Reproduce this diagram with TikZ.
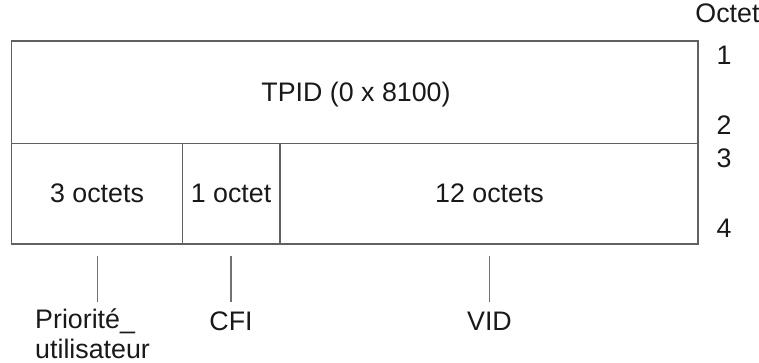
\documentclass[tikz,border=0pt]{standalone}
\usepackage{fontspec}
\setmainfont{Liberation Sans}
\begin{document}
\begin{tikzpicture}[x=1pt,y=-1pt,
  frame/.style={draw=black!62,line width=1.3pt},
  tick/.style={draw=black!55,line width=1.2pt},
  lbl/.style={inner sep=0pt,anchor=base,text=black!90,font=\fontsize{26.8}{30}\selectfont},
  lblw/.style={lbl,anchor=base west,align=left}]
\useasboundingbox (0,0) rectangle (759,363);
% frame
\draw[frame] (11.5,41) rectangle (698,244);
\draw[frame] (11.5,143.5) -- (698,143.5);
\draw[frame] (182.5,143.5) -- (182.5,244);
\draw[frame] (280,143.5) -- (280,244);
% cell texts
\node[lbl] (tpid) at (356,102) {TPID (0 x 8100)};
\node[lbl] (c3) at (97,203) {3 octets};
\node[lbl] (c1) at (231,203) {1 octet};
\node[lbl] (c12) at (489.5,203) {12 octets};
% octet numbers
\node[lbl] (oct) at (727.5,23) {Octet};
\node[lbl] (n1) at (724,65) {1};
\node[lbl] (n2) at (724,135) {2};
\node[lbl] (n3) at (724,168) {3};
\node[lbl] (n4) at (724,237) {4};
% ticks
\coordinate (t1a) at (97.5,256); \coordinate (t1b) at (97.5,302);
\coordinate (t2a) at (231,256); \coordinate (t2b) at (231,302);
\coordinate (t3a) at (489.5,256); \coordinate (t3b) at (489.5,302);
\draw[tick] (t1a) -- (t1b);
\draw[tick] (t2a) -- (t2b);
\draw[tick] (t3a) -- (t3b);
% labels
\node[lblw] (prio) at (35,358.5) {Priorité\_\\utilisateur};
\node[lbl] (cfi) at (231,330) {CFI};
\node[lbl] (vid) at (489.5,330) {VID};
\end{tikzpicture}
\end{document}
